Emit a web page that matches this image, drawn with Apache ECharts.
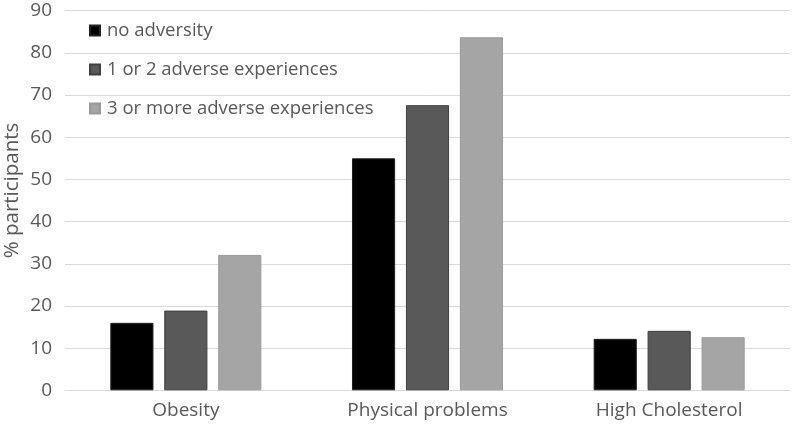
<!DOCTYPE html>
<html>
<head>
<meta charset="utf-8">
<script src="https://cdn.jsdelivr.net/npm/echarts@6/dist/echarts.min.js"></script>
<style>html,body{margin:0;padding:0;background:#fff;}#c{width:792px;height:430px;}</style>
</head>
<body>
<div id="c"></div>
<script>
const categories = ['Obesity', 'Physical problems', 'High Cholesterol'];
const seriesNames = ['no adversity', '1 or 2 adverse experiences', '3 or more adverse experiences'];
const noAdversity = [16.0, 55.0, 12.2];
const oneOrTwo = [18.9, 67.6, 14.1];
const threeOrMore = [32.1, 83.7, 12.6];
const yTicks = [0, 10, 20, 30, 40, 50, 60, 70, 80, 90];

const colors = ['#000000', '#595959', '#a5a5a5'];
const borders = ['#222222', '#3f3f3f', '#9a9a9a'];
const font = '"Open Sans", "Liberation Sans", sans-serif';
const values = [noAdversity, oneOrTwo, threeOrMore];

const chart = echarts.init(document.getElementById('c'), null, {renderer: 'canvas'});
chart.setOption({
  animation: false,
  backgroundColor: '#ffffff',
  grid: {left: 65, right: 2, top: 10.7, bottom: 39.7, containLabel: false, outerBoundsMode: 'none'},
  legend: {
    orient: 'vertical',
    left: 84,
    top: 15.5,
    itemWidth: 10,
    itemHeight: 10,
    itemGap: 19,
    icon: 'rect',
    data: seriesNames,
    textStyle: {color: '#595959', fontSize: 18.5, fontFamily: font, lineHeight: 20, padding: [0, 0, 0, 2]}
  },
  xAxis: {
    type: 'category',
    data: categories,
    axisTick: {show: false},
    axisLine: {lineStyle: {color: '#d9d9d9', width: 1}},
    axisLabel: {color: '#595959', fontSize: 19, fontFamily: font, margin: 11}
  },
  yAxis: {
    type: 'value',
    min: yTicks[0],
    max: yTicks[yTicks.length - 1],
    interval: 10,
    name: '% participants',
    nameLocation: 'middle',
    nameGap: 42,
    nameMoveOverlap: false,
    nameRotate: 90,
    nameTextStyle: {color: '#595959', fontSize: 20.5, fontFamily: font, padding: [0, 0, 0, 20]},
    axisLine: {show: false},
    axisTick: {show: false},
    splitLine: {lineStyle: {color: '#d9d9d9', width: 1}},
    axisLabel: {color: '#595959', fontSize: 19, fontFamily: font, margin: 13}
  },
  series: seriesNames.map((name, i) => ({
    name: name,
    type: 'bar',
    data: values[i],
    barGap: '25%',
    barCategoryGap: '37.5%',
    itemStyle: {color: colors[i], borderColor: borders[i], borderWidth: 1}
  }))
});
</script>
</body>
</html>
